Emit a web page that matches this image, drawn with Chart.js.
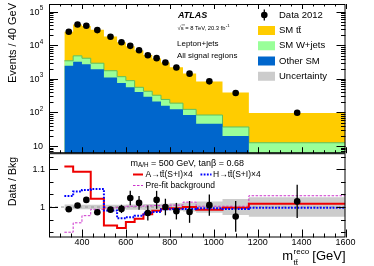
<!DOCTYPE html>
<html>
<head>
<meta charset="utf-8">
<script src="https://cdn.jsdelivr.net/npm/chart.js@4.4.1/dist/chart.umd.min.js"></script>
<style>
  html, body { margin: 0; padding: 0; background: #fff; }
  #wrap { width: 374px; height: 266px; }
</style>
</head>
<body>
<div id="wrap"><canvas id="chart" width="374" height="266"></canvas></div>
<script>
// Bin edges of the m_tt reco histogram (GeV)
const binEdges = [320, 360, 400, 440, 500, 560, 600, 640, 680, 720, 760, 800, 860, 920, 1040, 1160, 1600];
const dataX = [340, 380, 420, 470, 530, 580, 620, 660, 700, 740, 780, 830, 890, 980, 1100, 1380];

// Events / 40 GeV
const dataEvents = [25600, 42200, 38500, 28700, 18200, 12400, 9700, 7170, 5100, 4170, 3100, 2200, 1440, 850, 383, 98];
const ttbar   = [22300, 37200, 33800, 26200, 16600, 11300, 8600, 6540, 4750, 3770, 2860, 2030, 1340, 760, 355, 84];
const wjets   = [1010, 1640, 1390, 990, 650, 413, 328, 155, 135, 115, 85, 64, 40, 38, 17, 8.5];
const otherSM = [2470, 3250, 2760, 1960, 1110, 757, 562, 409, 295, 212, 160, 126, 84, 46, 20, 4];

// Ratio panel
const ratioData = [0.994, 1.004, 1.019, 0.986, 0.993, 0.995, 1.024, 1.011, 0.984, 1.019, 1.0, 0.989, 0.987, 1.005, 0.975, 1.015];
const ratioErr  = [0.004, 0.004, 0.005, 0.006, 0.007, 0.011, 0.019, 0.018, 0.020, 0.024, 0.022, 0.022, 0.029, 0.028, 0.041, 0.044];
const bkgUnc    = [0.007, 0.006, 0.006, 0.006, 0.006, 0.006, 0.007, 0.007, 0.008, 0.008, 0.009, 0.010, 0.012, 0.015, 0.021, 0.026];
const ratioA    = [1.108, 1.094, 1.094, 1.022, 0.951, 0.944, 0.960, 0.969, 0.981, 0.990, 0.995, 0.997, 1.0, 0.993, 0.998, 1.009];
const ratioH    = [1.029, 1.041, 1.045, 1.048, 0.991, 0.970, 0.973, 0.977, 0.985, 0.987, 0.994, 0.995, 0.995, 0.997, 0.995, 0.998];
const ratioPre  = [0.933, 0.958, 0.977, 0.994, 0.998, 1.0, 1.002, 1.002, 1.003, 1.004, 1.004, 1.005, 1.013, 1.002, 1.002, 1.030];

const xTicks = [400, 600, 800, 1000, 1200, 1400, 1600];
const yExps = [1, 2, 3, 4, 5];
const ratioTicks = [1, 1.1];

const FONT = '"Liberation Sans", Arial, Helvetica, sans-serif';
const MAIN_H = 150.5, RATIO_H = 85;

function steps(vals) {
  return binEdges.map((e, i) => ({ x: e, y: vals[Math.min(i, vals.length - 1)] }));
}
function cumul(...series) {
  return series[0].map((_, i) => series.reduce((s, a) => s + a[i], 0));
}
const otherTop = otherSM;
const wjetsTop = cumul(otherSM, wjets);
const ttbarTop = cumul(otherSM, wjets, ttbar);

function stepSet(vals, axis, extra) {
  return Object.assign({
    type: 'line', data: steps(vals), yAxisID: axis, stepped: true,
    pointRadius: 0, borderWidth: 1, fill: false
  }, extra);
}

function txt(ctx, s, x, y, size, o = {}) {
  ctx.font = `${o.style || ''} ${size}px ${FONT}`;
  ctx.textAlign = o.align || 'left';
  ctx.textBaseline = o.base || 'middle';
  ctx.fillStyle = o.color || '#000';
  ctx.fillText(s, x, y);
  return ctx.measureText(s).width;
}

// keep each panel's datasets inside its own half of the chart area
const panelClip = {
  id: 'panelClip',
  beforeDatasetDraw(chart, args) {
    const s = chart.scales[args.meta.yAxisID];
    const ctx = chart.ctx;
    ctx.save();
    ctx.beginPath();
    ctx.rect(chart.chartArea.left, s.top, chart.chartArea.right - chart.chartArea.left, s.bottom - s.top);
    ctx.clip();
  },
  afterDatasetDraw(chart) {
    chart.ctx.restore();
  }
};

// ROOT-like frames, ticks, labels and legends
const rootAxes = {
  id: 'rootAxes',
  afterDatasetsDraw(chart) {
    const { ctx, scales: { x, yRatio: r } } = chart;
    ctx.save();
    ctx.strokeStyle = '#000';
    ctx.lineWidth = 1.3;
    dataX.forEach((v, i) => {
      const px = x.getPixelForValue(v);
      ctx.beginPath();
      ctx.moveTo(px, r.getPixelForValue(ratioData[i] - ratioErr[i]));
      ctx.lineTo(px, r.getPixelForValue(ratioData[i] + ratioErr[i]));
      ctx.stroke();
    });
    ctx.restore();
  },
  afterDraw(chart) {
    const { ctx, scales: { x, y, yRatio: r } } = chart;
    const L = x.left, R = x.right;
    ctx.save();
    ctx.strokeStyle = '#000';
    ctx.lineWidth = 1;

    // frames
    ctx.strokeRect(L + 0.5, y.top + 0.5, R - L - 1, y.bottom - y.top - 1);
    ctx.strokeRect(L + 0.5, r.top + 0.5, R - L - 1, r.bottom - r.top - 1);

    const line = (x1, y1, x2, y2) => { ctx.beginPath(); ctx.moveTo(x1, y1); ctx.lineTo(x2, y2); ctx.stroke(); };

    // x ticks
    for (let v = 300; v <= 1600; v += 50) {
      const px = Math.round(x.getPixelForValue(v)) + 0.5;
      const major = v % 200 === 0;
      line(px, y.top, px, y.top + (major ? 5 : 2.5));
      line(px, y.bottom, px, y.bottom - (major ? 6 : 3));
      line(px, r.bottom, px, r.bottom - (major ? 8 : 4));
    }
    // main log y ticks
    for (let e = 0; e <= 5; e++) {
      for (let m = 1; m <= 9; m++) {
        const v = m * Math.pow(10, e);
        if (v < y.min || v > y.max) continue;
        const py = Math.round(y.getPixelForValue(v)) + 0.5;
        const len = m === 1 ? 9 : 4.5;
        line(L, py, L + len, py);
        line(R, py, R - len, py);
      }
    }
    // ratio y ticks
    for (let k = -2; k <= 4; k++) {
      const v = 1 + k * 0.1 / 3;
      if (v < r.min || v > r.max) continue;
      const py = Math.round(r.getPixelForValue(v)) + 0.5;
      const len = k % 3 === 0 ? 9 : 4.5;
      line(L, py, L + len, py);
      line(R, py, R - len, py);
    }

    // tick labels
    yExps.forEach(e => {
      const py = y.getPixelForValue(Math.pow(10, e)) + 0.5;
      if (e === 1) {
        txt(ctx, '10', 43, py, 9, { align: 'right' });
      } else {
        txt(ctx, '10', 39.5, py, 9, { align: 'right' });
        txt(ctx, String(e), 39.8, py - 3.8, 6.3);
      }
    });
    ratioTicks.forEach(v => {
      txt(ctx, String(v), 45, r.getPixelForValue(v) + 0.5, 9, { align: 'right' });
    });
    xTicks.forEach(v => {
      txt(ctx, String(v), x.getPixelForValue(v), 243, 9, { align: 'center' });
    });

    // axis titles
    ctx.save();
    ctx.translate(13, 3);
    ctx.rotate(-Math.PI / 2);
    txt(ctx, 'Events / 40 GeV', 0, 0, 11, { align: 'right' });
    ctx.restore();
    ctx.save();
    ctx.translate(13, 157);
    ctx.rotate(-Math.PI / 2);
    txt(ctx, 'Data / Bkg', 0, 0, 10.5, { align: 'right' });
    ctx.restore();

    // x title: m_tt^reco [GeV]
    ctx.font = `13px ${FONT}`;
    const wm = ctx.measureText('m').width;
    const wg = ctx.measureText(' [GeV]').width;
    ctx.font = `8px ${FONT}`;
    const ws = Math.max(ctx.measureText('reco').width, ctx.measureText('tt\u0304').width);
    let tx = R - (wm + ws + wg);
    txt(ctx, 'm', tx, 259.5, 13, { base: 'alphabetic' });
    txt(ctx, 'reco', tx + wm + 0.5, 254, 8, { base: 'alphabetic' });
    txt(ctx, 'tt\u0304', tx + wm + 0.5, 264.5, 8, { base: 'alphabetic' });
    txt(ctx, ' [GeV]', tx + wm + ws, 259.5, 13, { base: 'alphabetic' });

    // ATLAS labels
    txt(ctx, 'ATLAS', 178, 15.7, 9, { style: 'italic bold' });
    let w = txt(ctx, '\u221As = 8 TeV, 20.3 fb', 177.5, 28, 5.8);
    txt(ctx, '-1', 177.5 + w + 0.3, 26, 4.3);
    ctx.strokeStyle = '#000'; ctx.lineWidth = 0.5;
    line(181.5, 24.9, 185, 24.9);
    txt(ctx, 'Lepton+jets', 177, 43.3, 8);
    txt(ctx, 'All signal regions', 177, 56, 8);

    // main legend
    ctx.fillStyle = '#000';
    ctx.beginPath(); ctx.arc(264.3, 15, 3.3, 0, Math.PI * 2); ctx.fill();
    ctx.lineWidth = 1.3; line(264.3, 9.5, 264.3, 20.5);
    txt(ctx, 'Data 2012', 279, 15, 9.5);
    const boxes = [['#ffcc00', 'SM tt\u0304'], ['#99ff99', 'SM W+jets'], ['#0066cc', 'Other SM'], ['#cccccc', 'Uncertainty']];
    boxes.forEach(([c, label], i) => {
      const cy = 30.5 + i * 15.25;
      ctx.fillStyle = c;
      ctx.fillRect(258, cy - 4.5, 17, 9);
      txt(ctx, label, 279, cy, 9.5);
    });

    // ratio legend
    w = txt(ctx, 'm', 130.5, 163.3, 9);
    const ws2 = txt(ctx, 'A/H', 130.5 + w, 165.5, 6.3);
    txt(ctx, ' = 500 GeV, tan\u03B2 = 0.68', 130.5 + w + ws2, 163.3, 9);
    ctx.lineWidth = 2; ctx.strokeStyle = '#ee0000'; ctx.setLineDash([]);
    line(133, 174.5, 143, 174.5);
    txt(ctx, 'A\u2192tt\u0304(S+I)\u00D74', 145.5, 174.5, 8.5);
    ctx.strokeStyle = '#0000ff'; ctx.setLineDash([1.8, 1.4]);
    line(200.5, 174.5, 211.5, 174.5);
    ctx.setLineDash([]);
    txt(ctx, 'H\u2192tt\u0304(S+I)\u00D74', 213, 174.5, 8.5);
    ctx.strokeStyle = '#cc33cc'; ctx.lineWidth = 1; ctx.setLineDash([2.5, 1.5]);
    line(133, 185.5, 143, 185.5);
    ctx.setLineDash([]);
    txt(ctx, 'Pre-fit background', 145.5, 185.5, 8.5);

    ctx.restore();
  }
};

const hidden = {
  ticks: { display: false }, grid: { display: false }, border: { display: false }
};

new Chart(document.getElementById('chart'), {
  type: 'line',
  data: {
    datasets: [
      // main panel
      stepSet(ttbarTop, 'y', { fill: 'start', backgroundColor: '#ffcc00', borderColor: 'rgba(0,0,0,0)', order: 20 }),
      stepSet(wjetsTop, 'y', { fill: 'start', backgroundColor: '#99ff99', borderColor: '#5fbf5f', order: 19 }),
      stepSet(otherTop, 'y', { fill: 'start', backgroundColor: '#0066cc', borderColor: 'rgba(0,0,0,0)', order: 18 }),
      {
        type: 'line', yAxisID: 'y', showLine: false, order: 1,
        data: dataX.map((v, i) => ({ x: v, y: dataEvents[i] })),
        pointRadius: 3.3, pointBackgroundColor: '#000', pointBorderWidth: 0
      },
      // ratio panel
      stepSet(bkgUnc.map(u => 1 + u), 'yRatio', { borderColor: 'rgba(0,0,0,0)', order: 12 }),
      stepSet(bkgUnc.map(u => 1 - u), 'yRatio', { fill: '-1', backgroundColor: '#cccccc', borderColor: 'rgba(0,0,0,0)', order: 11 }),
      {
        type: 'line', yAxisID: 'yRatio', data: [{ x: 250, y: 1 }, { x: 1600, y: 1 }], order: 10,
        borderColor: '#999999', borderWidth: 1, borderDash: [3, 3], pointRadius: 0
      },
      stepSet(ratioPre, 'yRatio', { borderColor: '#cc33cc', borderWidth: 1, borderDash: [2.5, 1.5], order: 6 }),
      stepSet(ratioA, 'yRatio', { borderColor: '#ee0000', borderWidth: 2, order: 5 }),
      stepSet(ratioH, 'yRatio', { borderColor: '#0000ff', borderWidth: 2, borderDash: [1.8, 1.4], order: 4 }),
      {
        type: 'line', yAxisID: 'yRatio', showLine: false, order: 0,
        data: dataX.map((v, i) => ({ x: v, y: ratioData[i] })),
        pointRadius: 3.3, pointBackgroundColor: '#000', pointBorderWidth: 0
      }
    ]
  },
  options: {
    responsive: false,
    animation: false,
    events: [],
    layout: { padding: { top: 2, right: 28.5, left: 0, bottom: 0 } },
    plugins: { legend: { display: false }, tooltip: { enabled: false } },
    scales: {
      x: Object.assign({ type: 'linear', min: 250, max: 1600, afterFit: s => { s.height = 28.5; } }, hidden),
      yRatio: Object.assign({ type: 'linear', min: 0.919, max: 1.143, position: 'left', stack: 'v', stackWeight: RATIO_H,
        afterFit: s => { s.width = 49; } }, hidden),
      y: Object.assign({ type: 'logarithmic', min: 6.1, max: 1.72e5, position: 'left', stack: 'v', stackWeight: MAIN_H,
        afterFit: s => { s.width = 49; } }, hidden)
    }
  },
  plugins: [panelClip, rootAxes]
});
</script>
</body>
</html>
